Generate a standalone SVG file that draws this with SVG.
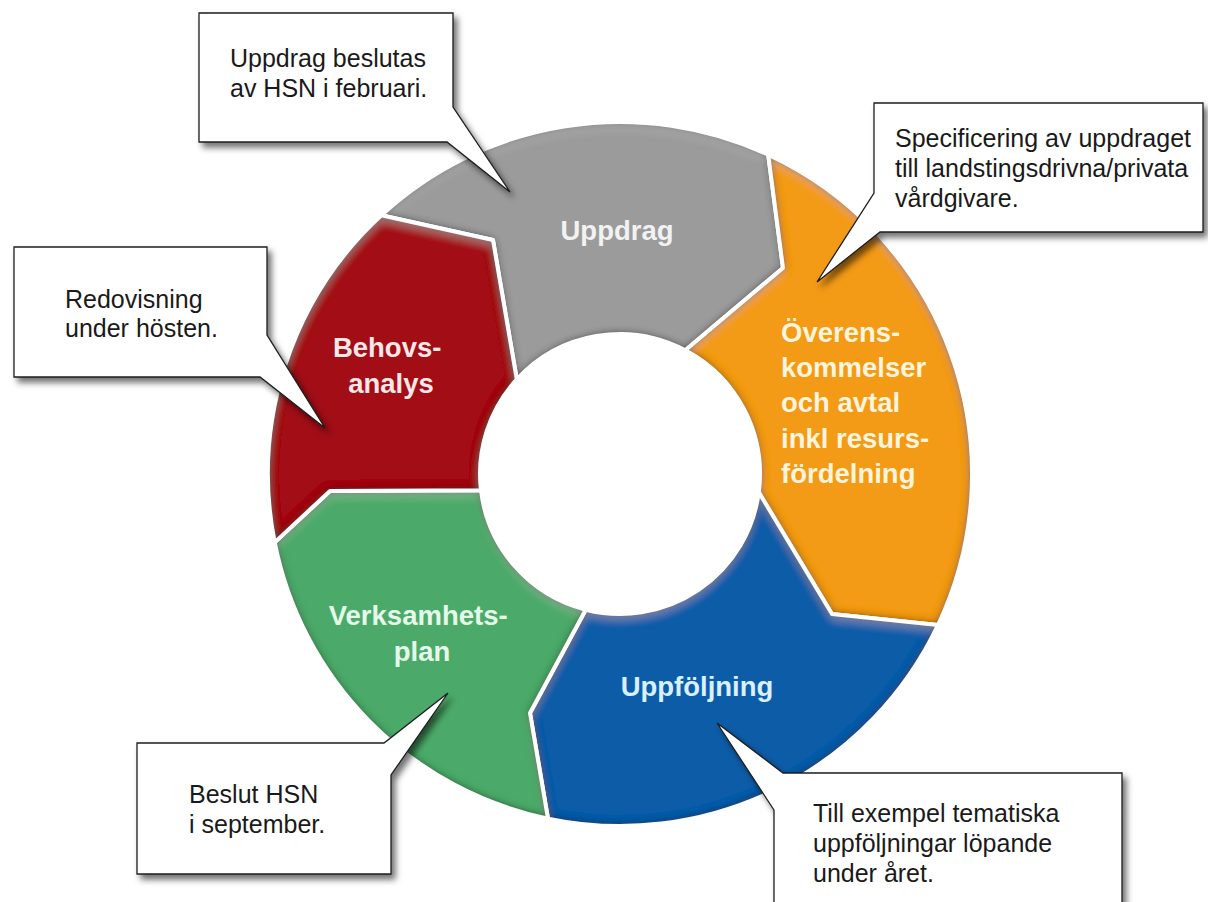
<svg xmlns="http://www.w3.org/2000/svg" width="1208" height="902" viewBox="0 0 1208 902">
  <defs>
    <!-- pillow bevel for the ring segments -->
    <filter id="bevel" x="-10%" y="-10%" width="120%" height="120%">
      <feGaussianBlur in="SourceAlpha" stdDeviation="5" result="blur"/>
      <feComposite in="SourceAlpha" in2="blur" operator="arithmetic" k2="2.2" k3="-2.2" result="rim"/>
      <feFlood flood-color="#000" flood-opacity="0.6"/>
      <feComposite in2="rim" operator="in" result="shade"/>
      <feOffset in="blur" dx="0" dy="6" result="blurDown"/>
      <feComposite in="SourceAlpha" in2="blurDown" operator="arithmetic" k2="0.6" k3="-0.6" result="topRim"/>
      <feFlood flood-color="#fff" flood-opacity="0.3"/>
      <feComposite in2="topRim" operator="in" result="light"/>
      <feMerge>
        <feMergeNode in="SourceGraphic"/>
        <feMergeNode in="shade"/>
        <feMergeNode in="light"/>
      </feMerge>
    </filter>
    <!-- soft drop shadow for the callout boxes -->
    <filter id="boxShadow" x="-10%" y="-10%" width="125%" height="130%">
      <feGaussianBlur in="SourceAlpha" stdDeviation="3"/>
      <feOffset dx="4" dy="5" result="off"/>
      <feFlood flood-color="#000" flood-opacity="0.55"/>
      <feComposite in2="off" operator="in" result="sh"/>
      <feMerge>
        <feMergeNode in="sh"/>
        <feMergeNode in="SourceGraphic"/>
      </feMerge>
    </filter>
    <style>
      .seg { filter: url(#bevel); }
      .gap { fill: none; stroke: #fff; stroke-width: 4; stroke-linejoin: round; }
      .label { font-family: "Liberation Sans", Arial, sans-serif; font-weight: bold; font-size: 27.5px; }
      .box { fill: #fff; stroke: #1e1e1e; stroke-width: 1.3; filter: url(#boxShadow); }
      .note { font-family: "Liberation Sans", Arial, sans-serif; font-size: 25px; fill: #1a1a1a; }
    </style>
    <path id="p-uppdrag" d="M381.3,215.3 A352,352 0 0 1 768.2,154.7 L783,268 L685.3,350.2 A140,140 0 0 0 516.8,379.4 L493,240 Z"/>
    <path id="p-overens" d="M768.2,154.7 A352,352 0 0 1 938,625 L832,614 L758.8,492.3 A140,140 0 0 0 685.3,350.2 L783,268 Z"/>
    <path id="p-uppfoljning" d="M938,625 A352,352 0 0 1 548,818.6 L530,713 L585.7,609.7 A140,140 0 0 0 758.8,492.3 L832,614 Z"/>
    <path id="p-verksamhet" d="M548,818.6 A352,352 0 0 1 274.7,542.4 L330,491 L481,490.3 A140,140 0 0 0 585.7,609.7 L530,713 Z"/>
    <path id="p-behov" d="M274.7,542.4 A352,352 0 0 1 381.3,215.3 L493,240 L516.8,379.4 A140,140 0 0 0 481,490.3 L330,491 Z"/>
  </defs>

  <rect width="1208" height="902" fill="#fff"/>

  <!-- cycle segments -->
  <g id="uppdrag">
    <use href="#p-uppdrag" class="seg" fill="#9b9b9b"/>
    <use href="#p-uppdrag" class="gap"/>
    <text class="label" x="617" y="240" text-anchor="middle" fill="#f2f2f2">Uppdrag</text>
  </g>
  <g id="overenskommelser">
    <use href="#p-overens" class="seg" fill="#f39a16"/>
    <use href="#p-overens" class="gap"/>
    <text class="label" fill="#fff4dc">
      <tspan x="781" y="342">Överens-</tspan>
      <tspan x="781" y="377">kommelser</tspan>
      <tspan x="781" y="412">och avtal</tspan>
      <tspan x="781" y="448">inkl resurs-</tspan>
      <tspan x="781" y="483">fördelning</tspan>
    </text>
  </g>
  <g id="uppfoljning">
    <use href="#p-uppfoljning" class="seg" fill="#0b5ca8"/>
    <use href="#p-uppfoljning" class="gap"/>
    <text class="label" x="697" y="696" text-anchor="middle" fill="#d8f0ff">Uppföljning</text>
  </g>
  <g id="verksamhetsplan">
    <use href="#p-verksamhet" class="seg" fill="#4caa69"/>
    <use href="#p-verksamhet" class="gap"/>
    <text class="label" text-anchor="middle" fill="#e6f8ea">
      <tspan x="422" y="625">Verksamhets-</tspan>
      <tspan x="422" y="661">plan</tspan>
    </text>
  </g>
  <g id="behovsanalys">
    <use href="#p-behov" class="seg" fill="#a20f18"/>
    <use href="#p-behov" class="gap"/>
    <text class="label" text-anchor="middle" fill="#f8e8e8">
      <tspan x="391" y="357">Behovs-</tspan>
      <tspan x="391" y="393">analys</tspan>
    </text>
  </g>

  <!-- callouts with their pointer tails -->
  <g id="callout-uppdrag">
    <path class="box" d="M199,13 H453 V107 L510,192 L447,142 H199 Z"/>
    <text class="note">
      <tspan x="230" y="67">Uppdrag beslutas</tspan>
      <tspan x="230" y="97">av HSN i februari.</tspan>
    </text>
  </g>
  <g id="callout-overens">
    <path class="box" d="M874,103 H1203 V232 H880 L817,282 L874,193 Z"/>
    <text class="note">
      <tspan x="895" y="147">Specificering av uppdraget</tspan>
      <tspan x="895" y="177">till landstingsdrivna/privata</tspan>
      <tspan x="895" y="207">vårdgivare.</tspan>
    </text>
  </g>
  <g id="callout-behov">
    <path class="box" d="M14,247 H267 V335 L325,428 L260,377 H14 Z"/>
    <text class="note">
      <tspan x="65" y="308">Redovisning</tspan>
      <tspan x="65" y="337">under hösten.</tspan>
    </text>
  </g>
  <g id="callout-verksamhet">
    <path class="box" d="M137,743 H384 L448,693 L391,775 V874 H137 Z"/>
    <text class="note">
      <tspan x="189" y="803">Beslut HSN</tspan>
      <tspan x="189" y="833">i september.</tspan>
    </text>
  </g>
  <g id="callout-uppfoljning">
    <path class="box" d="M774,810 L717,723 L783,773 H1122 V915 H774 Z"/>
    <text class="note">
      <tspan x="813" y="822">Till exempel tematiska</tspan>
      <tspan x="813" y="852">uppföljningar löpande</tspan>
      <tspan x="813" y="882">under året.</tspan>
    </text>
  </g>
</svg>
